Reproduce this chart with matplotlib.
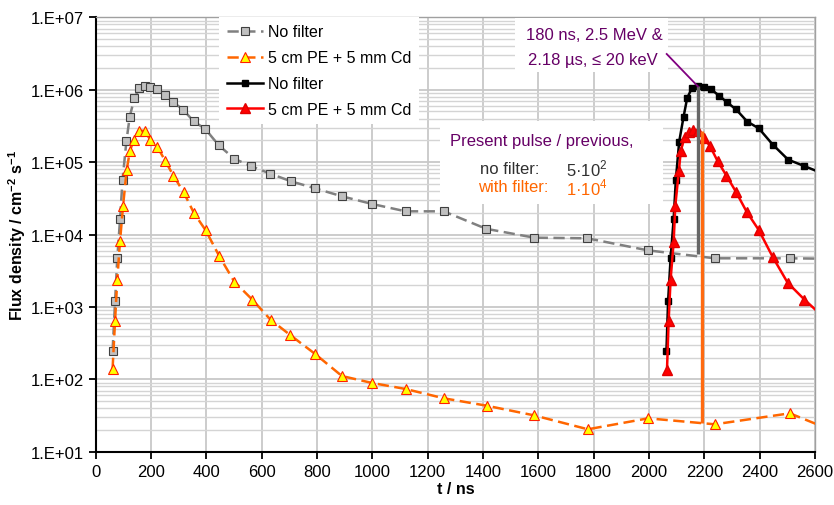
import math
import matplotlib
matplotlib.use("Agg")
import matplotlib.pyplot as plt
from matplotlib.ticker import FixedLocator, LogLocator, FuncFormatter, NullFormatter
from matplotlib.patches import Rectangle

plt.rcParams['font.family'] = ['Liberation Sans', 'DejaVu Sans']
plt.rcParams['mathtext.fontset'] = 'custom'
plt.rcParams['mathtext.rm'] = 'Liberation Sans'
plt.rcParams['mathtext.bf'] = 'Liberation Sans:bold'

# first pulse, no filter (grey, dashed)
t_nf1 = [61, 70, 78, 88, 97, 111, 123, 140, 158, 177, 197, 223, 252, 281, 317, 354, 396,
         444, 501, 561, 631, 706, 793, 890, 999, 1120, 1258, 1411, 1585, 1777, 1995, 2238,
         2509, 2700]
f_nf1 = [244, 1195, 4690, 16200, 57100, 194000, 424000, 768000, 1.045e6, 1.13e6, 1.08e6,
         1.01e6, 838000, 670000, 525000, 366000, 287000, 172000, 111000, 88300, 69200,
         54300, 43400, 33700, 26400, 20900, 20900, 12000, 9040, 8860, 6050, 4690, 4690, 4600]

# first pulse, 5 cm PE + 5 mm Cd (orange, dashed)
t_f1 = [61, 70, 78, 88, 99, 112, 124, 138, 156, 177, 197, 223, 252, 281, 318, 355, 397,
        447, 501, 566, 632, 703, 793, 890, 999, 1120, 1258, 1413, 1584, 1779, 1997, 2238,
        2509, 2630]
f_f1 = [139, 646, 2380, 8130, 25000, 78500, 144000, 204000, 272000, 270000, 204000,
        162000, 103000, 64800, 38300, 19800, 11500, 5000, 2230, 1260, 665, 409, 224, 111,
        89, 73.5, 54.7, 43.2, 31.8, 20.4, 28.9, 23.9, 33.9, 22]

# second pulse, no filter (black)
t_nf2 = [2063, 2069, 2078, 2089, 2097, 2109, 2125, 2138, 2156, 2177, 2199, 2223, 2253,
         2282, 2315, 2355, 2397, 2447, 2503, 2562, 2630]
f_nf2 = [244, 1195, 4690, 16200, 57100, 191000, 424000, 768000, 1.07e6, 1.12e6, 1.08e6,
         1.02e6, 830000, 670000, 533000, 363000, 292000, 175000, 108000, 88000, 69000]

# second pulse, 5 cm PE + 5 mm Cd (red)
t_f2 = [2065, 2071, 2078, 2089, 2095, 2108, 2115, 2129, 2145, 2160, 2177, 2199, 2220,
        2248, 2280, 2314, 2353, 2397, 2447, 2501, 2562, 2632]
f_f2 = [135, 646, 2380, 7800, 25000, 75800, 144000, 223000, 260000, 280000, 270000,
        212000, 168000, 103000, 65000, 39000, 20600, 11500, 4900, 2160, 1260, 715]

# vertical marker bars (t, bottom, top)
bar_grey = (2176, 5400, 1.12e6)
bar_orange = (2192, 25, 272000)

W, H = 834, 506
fig = plt.figure(figsize=(W / 100, H / 100), dpi=100)
ax = fig.add_axes([95.7 / W, 1 - 452.7 / H, (815 - 95.7) / W, (452.7 - 18.3) / H])


def px(x, y):
    return x / W, 1 - y / H


ax.set_yscale('log')
ax.set_xlim(0, 2600)
ax.set_ylim(10, 1e7)
ax.xaxis.set_major_locator(FixedLocator(range(0, 2601, 200)))
ax.yaxis.set_major_locator(LogLocator(base=10, numticks=10))
ax.yaxis.set_minor_locator(LogLocator(base=10, subs=range(2, 10), numticks=10))
ax.yaxis.set_minor_formatter(NullFormatter())
ax.yaxis.set_major_formatter(FuncFormatter(lambda v, p: "1.E%+03d" % round(math.log10(v))))

ax.grid(True, which='major', color='#c8c8c8', lw=1.3)
ax.grid(True, which='minor', axis='y', color='#d4d4d4', lw=1.0)
ax.set_axisbelow(True)
ax.tick_params(axis='both', which='major', labelsize=12, length=5, width=1.3, direction='out')
ax.tick_params(axis='y', which='minor', length=0)
for s in ['left', 'bottom']:
    ax.spines[s].set_linewidth(1.5)
for s in ['top', 'right']:
    ax.spines[s].set_color('#a0a0a0')
    ax.spines[s].set_linewidth(1.0)

ax.plot(t_nf1, f_nf1, color='#808080', lw=1.8, ls=(0, (4.5, 2.2)), marker='s', ms=5.5,
        mfc='#c0c0c0', mec='#404040', mew=0.8, label='No filter', zorder=3)
ax.plot(t_f1, f_f1, color='#ff6600', lw=1.8, ls=(0, (4.5, 2.2)), marker='^', ms=7,
        mfc='#ffff00', mec='#ff2000', mew=0.8, label='5 cm PE + 5 mm Cd', zorder=3)
ax.plot(t_nf2, f_nf2, color='black', lw=1.8, marker='s', ms=5, mfc='black', mec='black',
        label='No filter', zorder=4)
ax.plot(t_f2, f_f2, color='#ff0000', lw=1.8, marker='^', ms=6.5, mfc='#ff0000', mec='#e00000',
        label='5 cm PE + 5 mm Cd', zorder=4)

ax.vlines(bar_grey[0], bar_grey[1], bar_grey[2], color='#666666', lw=2.4, zorder=5)
ax.vlines(bar_orange[0], bar_orange[1], bar_orange[2], color='#ff6a10', lw=2.4, zorder=5)

leg = ax.legend(loc='upper left', bbox_to_anchor=(0.172, 1.0), fontsize=11.5, frameon=True,
                fancybox=False, edgecolor='none', framealpha=1, handlelength=2.3,
                handletextpad=0.3, labelspacing=0.68, borderaxespad=0.0, borderpad=0.45)
leg.set_zorder(6)

ax.set_xlabel('t / ns', fontsize=11.5, fontweight='bold', labelpad=2)
ax.set_ylabel(r'Flux density / cm$^{\mathbf{-2}}$ s$^{\mathbf{-1}}$', fontsize=11.5,
              fontweight='bold', labelpad=2)

purple = '#660066'
# white text boxes
for (x0, y0, x1, y1) in [(515, 18.5, 668, 73), (440, 122, 663, 205)]:
    fig.patches.append(Rectangle(px(x0, y1), (x1 - x0) / W, (y1 - y0) / H,
                                 transform=fig.transFigure, facecolor='white',
                                 edgecolor='none', zorder=2.5))
fig.text(*px(594, 35), '180 ns, 2.5 MeV &', color=purple, fontsize=12, ha='center', va='center', zorder=7)
fig.text(*px(593, 60), '2.18 µs, ≤ 20 keV', color=purple, fontsize=12, ha='center', va='center', zorder=7)
fig.add_artist(plt.Line2D([666.7 / W, 698 / W], [1 - 55 / H, 1 - 87.5 / H], color='#800080', lw=1.3, zorder=7))

fig.text(*px(450, 142), 'Present pulse / previous,', color=purple, fontsize=12, ha='left', va='center', zorder=7)
fig.text(*px(480, 169), 'no filter:', color='#303030', fontsize=12, ha='left', va='center', zorder=7)
fig.text(*px(566, 169), r'5·10$^{2}$', color='#303030', fontsize=12, ha='left', va='center', zorder=7)
fig.text(*px(478, 188), 'with filter:', color='#ff6600', fontsize=12, ha='left', va='center', zorder=7)
fig.text(*px(566, 188), r'1·10$^{4}$', color='#ff6600', fontsize=12, ha='left', va='center', zorder=7)

fig.savefig('out.png', dpi=100)
